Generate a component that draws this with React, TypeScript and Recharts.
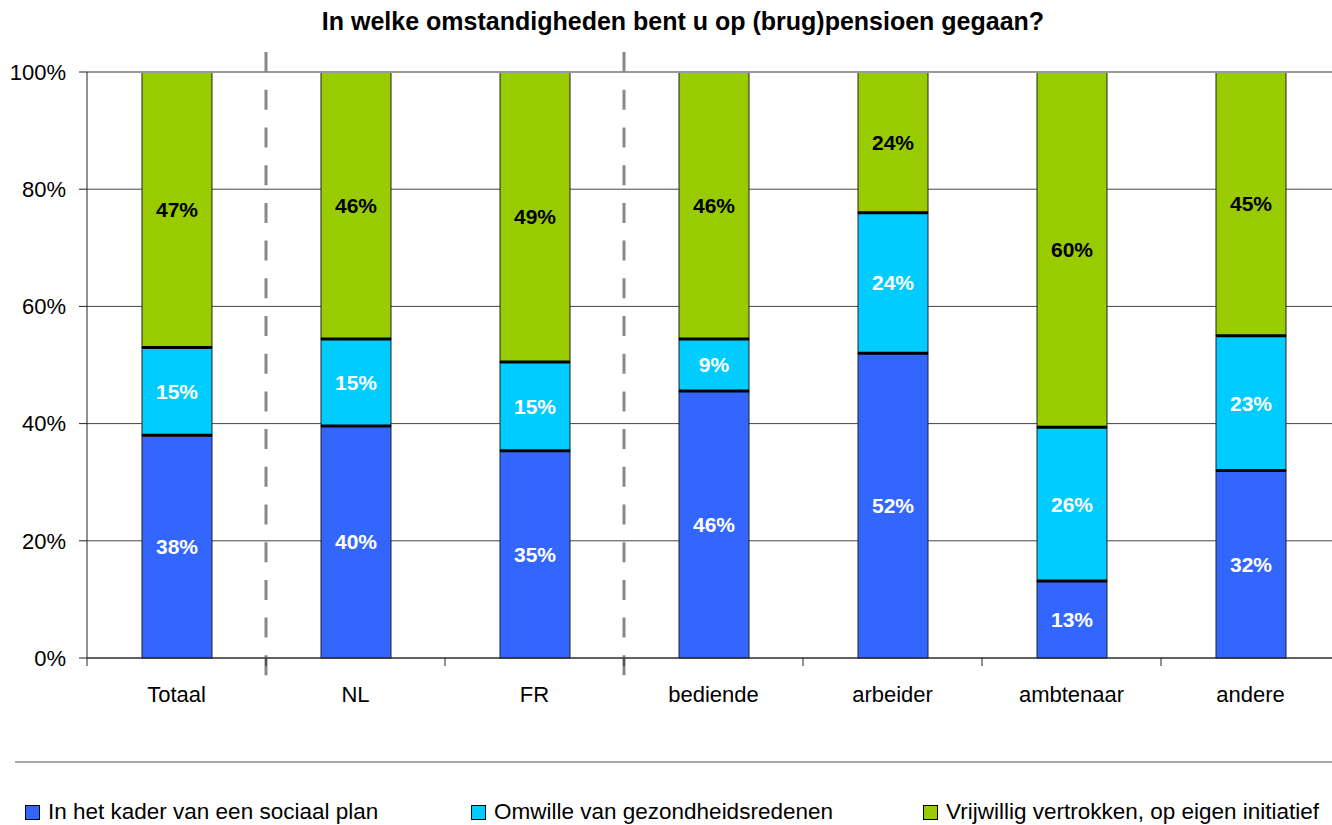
import { BarChart, Bar, XAxis, YAxis, CartesianGrid, Legend, LabelList, ReferenceLine } from "recharts";

// Categories and the three answer series (percent, as printed on the bars)
const categories = ["Totaal", "NL", "FR", "bediende", "arbeider", "ambtenaar", "andere"];
const sociaalPlan = [38, 40, 35, 46, 52, 13, 32];
const gezondheid = [15, 15, 15, 9, 24, 26, 23];
const vrijwillig = [47, 46, 49, 46, 24, 60, 45];
const yTicks = [0, 0.2, 0.4, 0.6, 0.8, 1];

const seriesInfo = [
  { key: "sociaal", name: "In het kader van een sociaal plan", color: "#3366FF", label: "#FFFFFF" },
  { key: "gezondheid", name: "Omwille van gezondheidsredenen", color: "#00CCFF", label: "#FFFFFF" },
  { key: "vrijwillig", name: "Vrijwillig vertrokken, op eigen initiatief", color: "#99CC00", label: "#000000" },
];

const data = categories.map((name, i) => ({
  name,
  sociaal: sociaalPlan[i],
  gezondheid: gezondheid[i],
  vrijwillig: vrijwillig[i],
}));

const FONT = '"Liberation Sans", Arial, sans-serif';

// bar segment with a heavy black line on its lower edge (segments above the first one)
const segmentShape = (heavyBottom: boolean) => (props: any) => {
  const { x, y, width, height, fill } = props;
  if (!width || !height) return <g />;
  return (
    <g>
      <rect x={x} y={y} width={width} height={height} fill={fill} stroke="#222" strokeWidth={1} />
      {heavyBottom && (
        <line x1={x} x2={x + width} y1={y + height} y2={y + height} stroke="#000" strokeWidth={3} />
      )}
    </g>
  );
};

// category label with the tick marks at the band edges, like Excel
function CategoryTick(props: any) {
  const { x, y, payload, index, visibleTicksCount } = props;
  const half = payload?.offset ? payload.offset : 89.5;
  return (
    <g>
      <line x1={x - half} x2={x - half} y1={y} y2={y + 8} stroke="#222" strokeWidth={1} />
      {index === visibleTicksCount - 1 && (
        <line x1={x + half} x2={x + half} y1={y} y2={y + 8} stroke="#222" strokeWidth={1} />
      )}
      <text x={x} y={y + 44} textAnchor="middle" fontSize={22} fill="#000" fontFamily={FONT}>
        {payload.value}
      </text>
    </g>
  );
}

function LegendBox() {
  const xs = [25, 471, 923];
  return (
    <div style={{ position: "relative", width: 1332, height: 70, fontFamily: FONT }}>
      <div style={{ position: "absolute", left: 15, top: 6, width: 1317, height: 2, background: "#aaaaaa" }} />
      {seriesInfo.map((s, i) => (
        <div key={s.key} style={{ position: "absolute", left: xs[i], top: 44, display: "flex", alignItems: "center" }}>
          <div style={{ width: 13, height: 13, background: s.color, border: "1px solid #000", marginRight: 8 }} />
          <span style={{ fontSize: 22.5, color: "#000", whiteSpace: "nowrap" }}>{s.name}</span>
        </div>
      ))}
    </div>
  );
}

export default function App() {
  return (
    <div style={{ position: "absolute", left: 0, top: 0, width: 1332, height: 825, overflow: "hidden", background: "#fff", fontFamily: FONT }}>
      <div style={{ position: "absolute", left: 0, top: 7, width: 1366, textAlign: "center", fontSize: 25, fontWeight: "bold", color: "#000" }}>
        In welke omstandigheden bent u op (brug)pensioen gegaan?
      </div>
      <BarChart
        width={1345}
        height={825}
        data={data}
        stackOffset="expand"
        margin={{ top: 72, right: 5, left: 0, bottom: 107 }}
      >
        <CartesianGrid vertical={false} stroke="#444" strokeWidth={1} />
        <XAxis
          dataKey="name"
          axisLine={{ stroke: "#222" }}
          tickLine={false}
          tickSize={0}
          tickMargin={0}
          height={60}
          interval={0}
          tick={<CategoryTick />}
        />
        <YAxis
          width={87}
          domain={[0, 1]}
          ticks={yTicks}
          tickFormatter={(v: number) => `${Math.round(v * 100)}%`}
          axisLine={{ stroke: "#222" }}
          tickLine={{ stroke: "#222" }}
          tickSize={8}
          tickMargin={13}
          tick={{ fontSize: 22, fill: "#000", fontFamily: FONT }}
        />
        <ReferenceLine y={1} stroke="#999" strokeWidth={2} />
        {seriesInfo.map((s, i) => (
          <Bar
            key={s.key}
            dataKey={s.key}
            name={s.name}
            stackId="a"
            fill={s.color}
            barSize={70}
            isAnimationActive={false}
            shape={segmentShape(i > 0)}
          >
            <LabelList
              dataKey={s.key}
              position="center"
              fill={s.label}
              stroke="none"
              fontSize={21}
              fontWeight="bold"
              fontFamily={FONT}
              formatter={(v: any) => `${v}%`}
            />
          </Bar>
        ))}
        <ReferenceLine
          segment={[{ x: "Totaal", y: 1.034 }, { x: "Totaal", y: -0.058 }]}
          position="end"
          ifOverflow="visible"
          stroke="#888"
          strokeWidth={3}
          strokeDasharray="20 17.7"
        />
        <ReferenceLine
          segment={[{ x: "FR", y: 1.034 }, { x: "FR", y: -0.058 }]}
          position="end"
          ifOverflow="visible"
          stroke="#888"
          strokeWidth={3}
          strokeDasharray="20 17.7"
        />
        <Legend
          layout="horizontal"
          verticalAlign="middle"
          align="center"
          wrapperStyle={{ left: 0, top: 755, width: 1332 }}
          content={() => <LegendBox />}
        />
      </BarChart>
    </div>
  );
}
